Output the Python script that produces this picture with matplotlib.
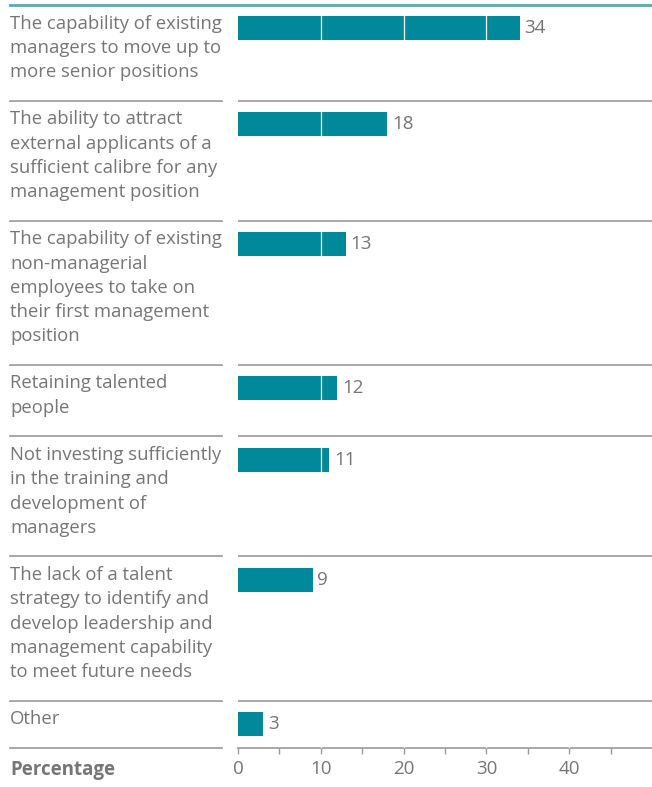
import matplotlib.pyplot as plt
from matplotlib.lines import Line2D
from matplotlib.transforms import blended_transform_factory

plt.rcParams['font.family'] = ['Open Sans', 'DejaVu Sans']

# survey answers, one row per option
labels = [
    "The capability of existing\nmanagers to move up to\nmore senior positions",
    "The ability to attract\nexternal applicants of a\nsufficient calibre for any\nmanagement position",
    "The capability of existing\nnon-managerial\nemployees to take on\ntheir first management\nposition",
    "Retaining talented\npeople",
    "Not investing sufficiently\nin the training and\ndevelopment of\nmanagers",
    "The lack of a talent\nstrategy to identify and\ndevelop leadership and\nmanagement capability\nto meet future needs",
    "Other",
]
values = [34, 18, 13, 12, 11, 9, 3]
tick_values = [0, 10, 20, 30, 40]
minor_ticks = [5, 15, 25, 35, 45]

teal = '#00899a'
grey_text = '#767676'
grey_line = '#9a9a9a'

W, H = 652, 787
fig = plt.figure(figsize=(W / 100, H / 100), dpi=100)

# each row grows with the number of label lines
line_h = 24.2
pad = 23
heights = [line_h * len(l.split('\n')) + pad for l in labels]
tops = [sum(heights[:i]) for i in range(len(heights))]
total = sum(heights)

top_px, bottom_px, left_px = 5, 748, 238
ax = fig.add_axes([left_px / W, 1 - bottom_px / H, 1 - left_px / W, (bottom_px - top_px) / H])
ax.set_xlim(0, 50)
ax.set_ylim(total, 0)

bar_h = 24
centers = [t + 11 + bar_h / 2 for t in tops]
ax.barh(centers, values, height=bar_h, color=teal, zorder=2)

# thin white gridlines show through the bars only
for v in tick_values[1:]:
    ax.axvline(v, color='white', lw=0.9, zorder=3)

for c, v in zip(centers, values):
    ax.text(v + 0.6, c, str(v), va='center', ha='left', fontsize=13.5,
            color=grey_text, zorder=5)

fig_y = blended_transform_factory(fig.transFigure, ax.transData)
for t, lab in zip(tops, labels):
    ax.text(10 / W, t + 9.5, lab, transform=fig_y, va='top', ha='left',
            fontsize=13.3, color=grey_text, linespacing=1.45, clip_on=False)

# row separators (left part under labels, right part across the plot)
for y in tops[1:]:
    ax.add_line(Line2D([10 / W, 222 / W], [y, y], transform=fig_y, color=grey_line,
                       lw=1.2, clip_on=False, zorder=4))
    ax.axhline(y, color=grey_line, lw=1.2, zorder=4)
ax.add_line(Line2D([10 / W, 222 / W], [total, total], transform=fig_y, color=grey_line,
                   lw=1.2, clip_on=False, zorder=4))
ax.add_line(Line2D([10 / W, 1], [0, 0], transform=fig_y, color='#5aa9b1',
                   lw=2, clip_on=False, zorder=4))

for s in ['top', 'right', 'left']:
    ax.spines[s].set_visible(False)
ax.spines['bottom'].set_color(grey_line)
ax.spines['bottom'].set_linewidth(1.2)
ax.set_yticks([])
ax.set_xticks(tick_values)
ax.set_xticks(minor_ticks, minor=True)
ax.tick_params(axis='x', which='both', direction='out', length=4, width=1,
               color=grey_line, labelcolor=grey_text, labelsize=13.5, pad=5)

fig.text(10 / W, 1 - 770 / H, "Percentage", fontsize=13.5, fontweight='bold',
         color=grey_text, va='center', ha='left')

fig.savefig('out.png', dpi=100)
